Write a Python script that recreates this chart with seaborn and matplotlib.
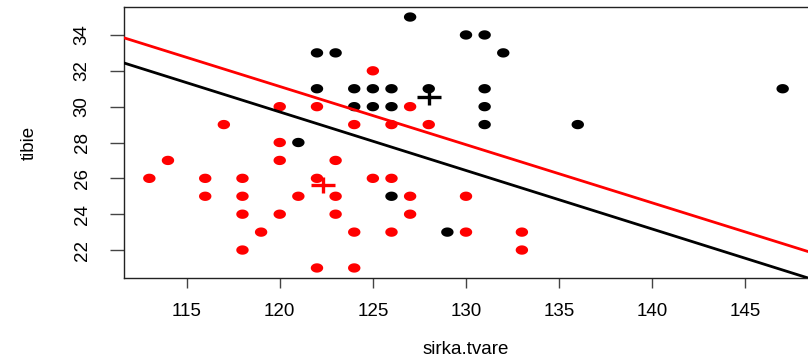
import numpy as np
import pandas as pd
import matplotlib
matplotlib.use("Agg")
import matplotlib.pyplot as plt
from matplotlib.path import Path
from matplotlib.markers import MarkerStyle
import seaborn as sns

# ---- data ----
red_x = [113, 114, 116, 116, 117, 118, 118, 118, 118, 119, 120, 120, 120, 120, 121,
         122, 122, 122, 123, 123, 123, 124, 124, 124, 125, 125, 126, 126, 126, 127,
         127, 127, 128, 130, 130, 133, 133]
red_y = [26, 27, 26, 25, 29, 26, 25, 24, 22, 23, 30, 28, 27, 24, 25,
         30, 26, 21, 27, 25, 24, 29, 23, 21, 32, 26, 29, 26, 23, 30,
         25, 24, 29, 25, 23, 23, 22]
black_x = [127, 122, 123, 130, 131, 132, 122, 124, 125, 126, 128, 131, 124, 125,
           126, 131, 121, 131, 136, 147, 126, 129]
black_y = [35, 33, 33, 34, 34, 33, 31, 31, 31, 31, 31, 31, 30, 30,
           30, 30, 28, 29, 29, 31, 25, 23]
groups = ["black", "red"]
centroid_x = [128.03, 122.33]
centroid_y = [30.56, 25.64]
line_intercepts = [68.91, 70.09]
line_slopes = [-0.3267, -0.3247]
x_ticks = [115, 120, 125, 130, 135, 140, 145]
y_ticks = [22, 24, 26, 28, 30, 32, 34]
x_label = "sirka.tvare"
y_label = "tibie"

df = pd.DataFrame({
    "x": black_x + red_x,
    "y": black_y + red_y,
    "g": ["black"] * len(black_x) + ["red"] * len(red_x),
})
cent = pd.DataFrame({"x": centroid_x, "y": centroid_y, "g": groups})

sns.set_theme(style="ticks")
plt.rcParams["font.family"] = ["Liberation Sans", "DejaVu Sans"]

fig = plt.figure(figsize=(8.08, 3.6), dpi=100)
ax = fig.add_axes([124 / 808, 1 - 278 / 360, (808 - 124) / 808, (278 - 7) / 360])

palette = {"black": "#000000", "red": "#ff0000"}

# ellipse-shaped dot (reference is horizontally stretched)
t = np.linspace(0, 2 * np.pi, 40)
ell = MarkerStyle(Path(np.column_stack([1.33 * np.cos(t), np.sin(t)]), closed=True))

sns.scatterplot(data=df, x="x", y="y", hue="g", palette=palette, marker=ell,
                s=80, linewidth=0, edgecolor="none", legend=False, ax=ax, zorder=2)

for a, b, c in zip(line_intercepts, line_slopes, groups):
    ax.axline((0, a), slope=b, color=palette[c], lw=2.0, zorder=3)

cross = Path([(-1.4, 0), (1.4, 0), (0, -1), (0, 1)],
             [Path.MOVETO, Path.LINETO, Path.MOVETO, Path.LINETO])
for _, r in cent.iterrows():
    ax.plot([r.x], [r.y], ls="none", marker=cross, markersize=17,
            mew=2.4, color=palette[r.g], zorder=4)

# R style axis limits (4% expansion)
ax_x = np.array(df.x, dtype=float)
ax_y = np.array(df.y, dtype=float)
rx = ax_x.max() - ax_x.min()
ry = ax_y.max() - ax_y.min()
ax.set_xlim(ax_x.min() - 0.04 * rx, ax_x.max() + 0.04 * rx)
ax.set_ylim(ax_y.min() - 0.04 * ry, ax_y.max() + 0.04 * ry)

fs = 13.5
ax.set_xticks(x_ticks)
ax.set_yticks(y_ticks)
ax.set_xticklabels([str(v) for v in x_ticks], fontsize=fs)
ax.set_yticklabels([str(v) for v in y_ticks], fontsize=fs, rotation=90, va="center")
ax.tick_params(axis="x", length=10 * 72 / 100, width=1, color="#444444",
               labelcolor="#000000", pad=11)
ax.tick_params(axis="y", length=14 * 72 / 100, width=1, color="#444444",
               labelcolor="#000000", pad=14)

ax.set_xlabel(x_label, fontsize=fs, labelpad=15, color="#000000")
ax.set_ylabel(y_label, fontsize=fs, labelpad=26, color="#000000")

for side in ["left", "bottom", "top"]:
    ax.spines[side].set_color("#222222")
    ax.spines[side].set_linewidth(1.0)
ax.spines["right"].set_visible(False)
ax.grid(False)

fig.savefig("out.png", dpi=100)
